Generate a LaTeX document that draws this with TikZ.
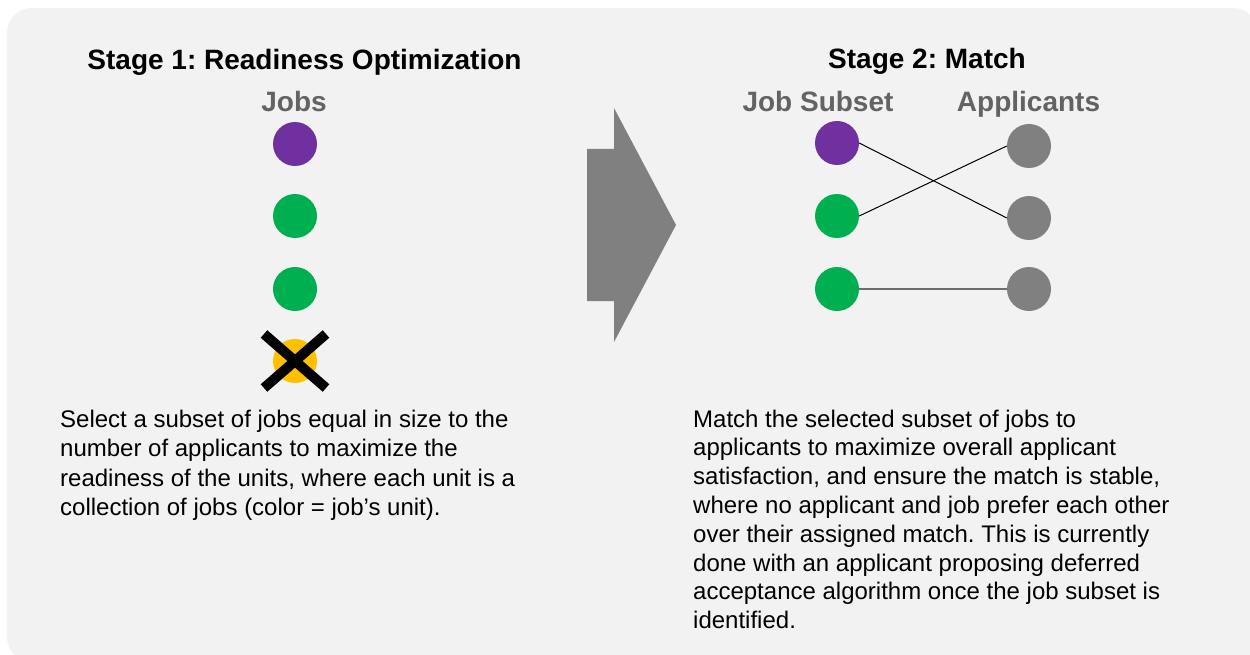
\documentclass[tikz,border=0pt]{standalone}
\usepackage{fontspec}
\setmainfont{Liberation Sans}
\usetikzlibrary{calc}
\frenchspacing

\definecolor{panel}{HTML}{F2F2F2}
\definecolor{unitpurple}{HTML}{7030A0}
\definecolor{unitgreen}{HTML}{00B050}
\definecolor{unityellow}{HTML}{FFC000}
\definecolor{applgray}{HTML}{808080}
\definecolor{headgray}{HTML}{636363}

\begin{document}
\begin{tikzpicture}[x=1pt, y=-1pt,
  dot/.style={circle, minimum size=44pt, inner sep=0pt, draw=none},
  title/.style={font=\bfseries\frenchspacing\fontsize{28}{34}\selectfont, anchor=base, inner sep=0pt},
  colhead/.style={title, text=headgray},
  bodytext/.style={anchor=base west, inner sep=0pt, font=\frenchspacing\fontsize{24}{29.5}\selectfont},
  pairing/.style={draw=black, line width=1pt},
  kept/.style={draw=applgray!85!black, line width=1.8pt}
]
\useasboundingbox (0,0) rectangle (1250,655);
\fill[white] (0,0) rectangle (1250,655);
\fill[panel, rounded corners=25pt] (7,8) rectangle (1258,662);

% ---- Stage 1 ----
\node[title] (t1) at (304.5,70) {Stage 1: Readiness Optimization};
\node[colhead] (jobs) at (294,112) {Jobs};

\node[dot, fill=unitpurple] (j1) at (295,144) {};
\node[dot, fill=unitgreen]  (j2) at (295,216) {};
\node[dot, fill=unitgreen]  (j3) at (295,289) {};
\node[dot, fill=unityellow] (j4) at (295,361) {};

% the dropped job is crossed out
\draw[line width=10pt] ($(j4)+(-31,-27)$) -- ($(j4)+(31,27)$);
\draw[line width=10pt] ($(j4)+(31,-27)$) -- ($(j4)+(-31,27)$);

\node[bodytext] (b1) at (60,427) {\parbox[t]{600pt}{\frenchspacing
Select a subset of jobs equal in size to the\\
number of applicants to maximize the\\
readiness of the units, where each unit is a\\
collection of jobs (color = job’s unit).}};

% ---- block arrow between the stages ----
\fill[applgray] (587,149) -- (614,149) -- (614,108) -- (676,225)
  -- (614,342) -- (614,301) -- (587,301) -- cycle;

% ---- Stage 2 ----
\node[title] (t2) at (927,69) {Stage 2: Match};
\node[colhead] (subset) at (818,112) {Job Subset};
\node[colhead] (appl) at (1028.5,112) {Applicants};

\node[dot, fill=unitpurple] (s1) at (837,143) {};
\node[dot, fill=unitgreen]  (s2) at (837,216) {};
\node[dot, fill=unitgreen]  (s3) at (837,289) {};

\node[dot, fill=applgray] (a1) at (1029,146) {};
\node[dot, fill=applgray] (a2) at (1029,218) {};
\node[dot, fill=applgray] (a3) at (1029,289) {};

\draw[pairing] (s1.east) -- (a2.west);
\draw[pairing] (s2.east) -- (a1.west);
\draw[kept] (s3.east) -- (a3.west);

\node[bodytext] (b2) at (693,427) {\parbox[t]{600pt}{\frenchspacing\fontsize{24}{28.8}\selectfont
Match the selected subset of jobs to\\
applicants to maximize overall applicant\\
satisfaction, and ensure the match is stable,\\
where no applicant and job prefer each other\\
over their assigned match. This is currently\\
done with an applicant proposing deferred\\
acceptance algorithm once the job subset is\\
identified.}};
\end{tikzpicture}
\end{document}
